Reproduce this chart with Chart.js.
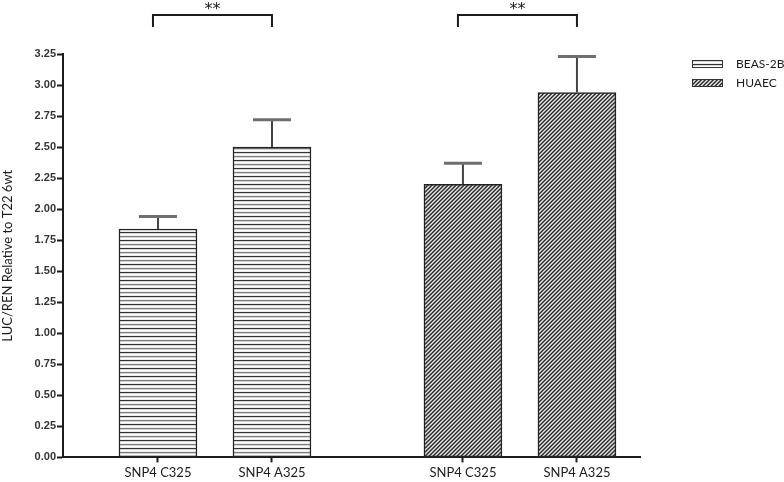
<!DOCTYPE html>
<html>
<head>
<meta charset="utf-8">
<script src="https://cdn.jsdelivr.net/npm/chart.js@4.4.1/dist/chart.umd.min.js"></script>
<style>
  html, body { margin: 0; padding: 0; background: #fff; }
  #chart { display: block; }
</style>
</head>
<body>
<canvas id="chart" width="784" height="482"></canvas>
<script>
const categories = ["SNP4 C325", "SNP4 A325", "SNP4 C325", "SNP4 A325"];
const seriesNames = ["BEAS-2B", "HUAEC"];
const beasValues = [1.84, 2.50];
const beasErrors = [0.10, 0.22];
const huaecValues = [2.20, 2.94];
const huaecErrors = [0.17, 0.29];
const yTickValues = [0, 0.25, 0.5, 0.75, 1, 1.25, 1.5, 1.75, 2, 2.25, 2.5, 2.75, 3, 3.25];
const significance = [[0, 1, "**"], [2, 3, "**"]];

// where each category sits on the x axis (second group is pushed further right)
const categorySlots = [1, 2, 3.675, 4.675];

const ink = "#1c1c1c";
const labelFont = "Lato, 'Open Sans', sans-serif";
const tickFont = "'Liberation Sans Narrow', 'Liberation Sans', Arial, sans-serif";

function stripePattern() {
  const c = document.createElement("canvas");
  c.width = 4;
  c.height = 8;
  const g = c.getContext("2d");
  const rows = ["#333333", "#d4d4d4", "#ffffff", "#ececec", "#7e7e7e", "#d2d2d2", "#ffffff", "#ececec"];
  rows.forEach((col, i) => {
    g.fillStyle = col;
    g.fillRect(0, i, 4, 1);
  });
  return g.createPattern(c, "repeat");
}

function hatchPattern() {
  const c = document.createElement("canvas");
  c.width = 4;
  c.height = 4;
  const g = c.getContext("2d");
  const shades = ["#2c2c2c", "#6a6a6a", "#e6e6e6", "#a2a2a2"];
  for (let x = 0; x < 4; x++) {
    for (let y = 0; y < 4; y++) {
      g.fillStyle = shades[(x + y) % 4];
      g.fillRect(x, y, 1, 1);
    }
  }
  return g.createPattern(c, "repeat");
}

const errorBars = {
  id: "errorBars",
  afterDatasetsDraw(chart) {
    const { ctx } = chart;
    const yScale = chart.scales.y;
    chart.data.datasets.forEach((ds, i) => {
      const meta = chart.getDatasetMeta(i);
      meta.data.forEach((bar, j) => {
        const cap = yScale.getPixelForValue(ds.data[j].y + ds.errors[j]);
        ctx.save();
        ctx.strokeStyle = "#444";
        ctx.lineWidth = 2;
        ctx.beginPath();
        ctx.moveTo(bar.x, bar.y);
        ctx.lineTo(bar.x, cap);
        ctx.stroke();
        ctx.strokeStyle = "#6e6e6e";
        ctx.lineWidth = 3;
        ctx.beginPath();
        ctx.moveTo(bar.x - 19, cap);
        ctx.lineTo(bar.x + 19, cap);
        ctx.stroke();
        ctx.restore();
      });
    });
  }
};

const brackets = {
  id: "brackets",
  afterDraw(chart) {
    const { ctx, chartArea } = chart;
    const xScale = chart.scales.x;
    const lineY = chartArea.top - 39;
    significance.forEach(([a, b, mark]) => {
      const xa = xScale.getPixelForValue(categorySlots[a]) - 5;
      const xb = xScale.getPixelForValue(categorySlots[b]);
      ctx.save();
      ctx.strokeStyle = ink;
      ctx.lineWidth = 2;
      ctx.beginPath();
      ctx.moveTo(xa, lineY + 12);
      ctx.lineTo(xa, lineY);
      ctx.lineTo(xb, lineY);
      ctx.lineTo(xb, lineY + 12);
      ctx.stroke();
      ctx.fillStyle = ink;
      ctx.font = "16px 'DejaVu Sans', sans-serif";
      ctx.textAlign = "center";
      ctx.textBaseline = "middle";
      ctx.fillText(mark, (xa + xb) / 2, lineY - 5);
      ctx.restore();
    });
  }
};

const sideLegend = {
  id: "sideLegend",
  afterDraw(chart) {
    const { ctx, chartArea } = chart;
    chart.data.datasets.forEach((ds, i) => {
      const cy = chartArea.top + 10 + i * 19;
      const x = chartArea.right + 52;
      ctx.save();
      ctx.fillStyle = ds.backgroundColor;
      ctx.fillRect(x, cy - 3.5, 31, 7);
      ctx.strokeStyle = "#333";
      ctx.lineWidth = 1;
      ctx.strokeRect(x + 0.5, cy - 3.5, 30, 7);
      ctx.fillStyle = ink;
      ctx.font = `12px ${labelFont}`;
      ctx.textBaseline = "middle";
      ctx.fillText(ds.label, x + 44, cy);
      ctx.restore();
    });
  }
};

new Chart(document.querySelector("#chart"), {
  type: "bar",
  data: {
    datasets: [
      {
        label: seriesNames[0],
        data: beasValues.map((v, i) => ({ x: categorySlots[i], y: v })),
        errors: beasErrors,
        backgroundColor: stripePattern()
      },
      {
        label: seriesNames[1],
        data: huaecValues.map((v, i) => ({ x: categorySlots[i + 2], y: v })),
        errors: huaecErrors,
        backgroundColor: hatchPattern()
      }
    ]
  },
  options: {
    responsive: false,
    animation: false,
    devicePixelRatio: 1,
    grouped: false,
    barThickness: 78,
    borderWidth: 1.5,
    borderColor: "#222",
    borderSkipped: false,
    layout: { padding: { top: 54, right: 144, bottom: -2, left: 0 } },
    plugins: {
      legend: { display: false },
      tooltip: { enabled: false }
    },
    scales: {
      x: {
        type: "linear",
        offset: false,
        min: 0.167,
        max: 5.228,
        afterBuildTicks: (axis) => {
          axis.ticks = categorySlots.map((v) => ({ value: v }));
        },
        ticks: {
          callback: (value, index) => categories[index],
          autoSkip: false,
          maxRotation: 0,
          color: ink,
          padding: 3,
          font: { family: labelFont, size: 13 }
        },
        grid: { offset: false, drawOnChartArea: false, tickLength: 5, tickColor: ink, tickWidth: 2 },
        border: { color: ink, width: 2 }
      },
      y: {
        min: 0,
        max: 3.25,
        afterBuildTicks: (axis) => {
          axis.ticks = yTickValues.map((v) => ({ value: v }));
        },
        afterFit: (axis) => {
          axis.width = 63;
        },
        ticks: {
          callback: (value) => Number(value).toFixed(2),
          color: "#333",
          padding: 1,
          font: { family: tickFont, size: 11, weight: "bold" }
        },
        title: {
          display: true,
          text: "LUC/REN Relative to T22 6wt",
          color: ink,
          padding: 0,
          font: { family: labelFont, size: 13 }
        },
        grid: { drawOnChartArea: false, tickLength: 6, tickColor: ink, tickWidth: 2 },
        border: { color: ink, width: 2 }
      }
    }
  },
  plugins: [errorBars, brackets, sideLegend]
});
</script>
</body>
</html>
